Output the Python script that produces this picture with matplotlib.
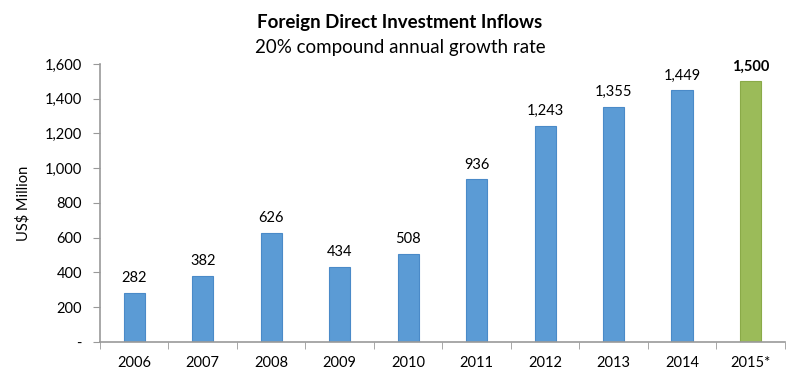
import matplotlib
matplotlib.use("Agg")
import matplotlib.pyplot as plt
import numpy as np

years = ["2006", "2007", "2008", "2009", "2010", "2011", "2012", "2013", "2014", "2015*"]
values = [282, 382, 626, 434, 508, 936, 1243, 1355, 1449, 1500]
yticks = [0, 200, 400, 600, 800, 1000, 1200, 1400, 1600]
ytick_labels = ["-", "200", "400", "600", "800", "1,000", "1,200", "1,400", "1,600"]

plt.rcParams['font.family'] = ['Lato', 'DejaVu Sans']

fig = plt.figure(figsize=(8, 3.8), dpi=100)
ax = fig.add_axes([0.125, 0.1, 0.856, 0.7316])

x = np.arange(len(years))
colors = ["#5B9BD5"] * (len(years) - 1) + ["#9BBB59"]
edges = ["#4A8AC8"] * (len(years) - 1) + ["#8AAA48"]
ax.bar(x, values, width=0.31, color=colors, edgecolor=edges, linewidth=0.8, zorder=2)

for i, v in enumerate(values):
    bold = (i == len(values) - 1)
    ax.text(x[i], v + 45, f"{v:,}", ha="center", va="bottom", fontsize=10.5,
            fontweight="bold" if bold else "normal", color="#000000")

ax.set_xlim(-0.5, len(years) - 0.5)
ax.set_ylim(0, 1600)
ax.set_yticks(yticks)
ax.set_yticklabels(ytick_labels, fontsize=10.5)
ax.set_xticks(x)
ax.set_xticklabels(years, fontsize=10.5)
ax.set_xticks(np.arange(-0.5, len(years), 1.0), minor=True)
ax.tick_params(axis="x", which="major", length=0, pad=10)
ax.tick_params(axis="x", which="minor", length=5, color="#999999", direction="out")
ax.tick_params(axis="y", length=5, color="#999999", direction="out", pad=8)

for s in ["top", "right"]:
    ax.spines[s].set_visible(False)
for s in ["left", "bottom"]:
    ax.spines[s].set_color("#999999")
    ax.spines[s].set_linewidth(1.2)

ax.set_ylabel("US$ Million", fontsize=10.5, labelpad=10)

fig.text(0.5, 0.94, "Foreign Direct Investment Inflows", ha="center", va="center",
         fontsize=13.5, fontweight="bold")
fig.text(0.5, 0.875, "20% compound annual growth rate", ha="center", va="center",
         fontsize=13.5)

fig.savefig("out.png", dpi=100)
